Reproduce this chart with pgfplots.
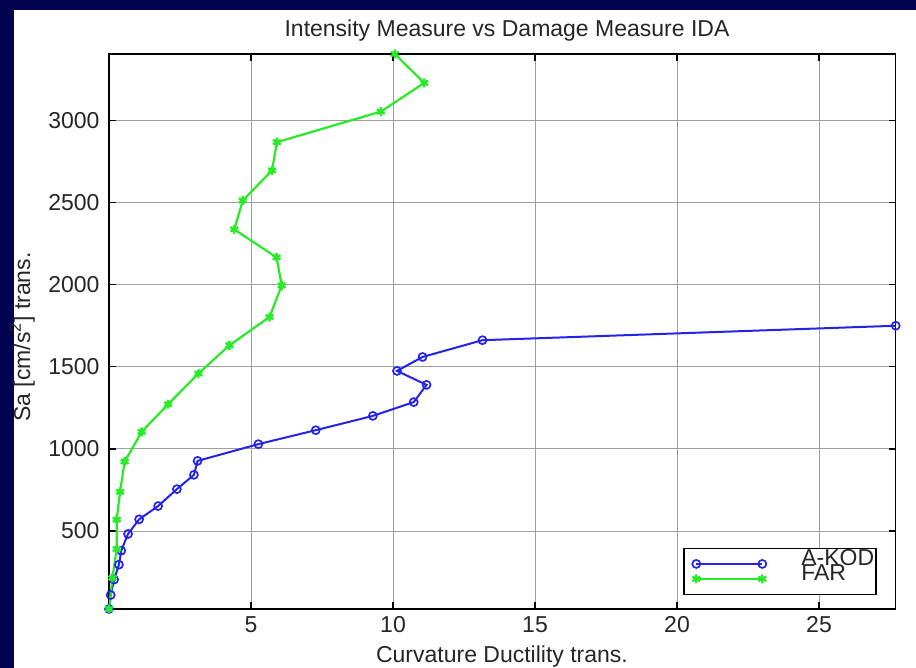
\documentclass[border=0pt]{standalone}
\usepackage{fontspec}
\setmainfont{Liberation Sans}
\usepackage{pgfplots}
\pgfplotsset{compat=1.18}
\definecolor{navy}{RGB}{2,2,80}
\definecolor{kod}{RGB}{35,35,235}
\definecolor{far}{RGB}{40,235,40}
\begin{document}
\begin{tikzpicture}[x=1pt,y=1pt,font=\fontsize{23}{26}\selectfont]
\fill[navy] (0,0) rectangle (916,668);
\fill[white] (14,0) rectangle (916,658);
\useasboundingbox (0,0) rectangle (916,668);
\begin{axis}[
  at={(109pt,59pt)}, anchor=south west,
  scale only axis, width=786.7pt, height=555pt,
  xmin=0, xmax=27.7, ymin=25, ymax=3405,
  xtick={5,10,15,20,25}, ytick={500,1000,1500,2000,2500,3000},
  /pgf/number format/assume math mode=true,
  /pgf/number format/1000 sep={},
  ticklabel style={font=\fontsize{23}{26}\selectfont, text=black!85},
  grid=major, major grid style={gray!75, line width=0.8pt},
  axis line style={black, line width=1.5pt},
  major tick length=7pt, tick style={black, line width=1.3pt},
  xticklabel style={yshift=-4pt},
  yticklabel style={xshift=-6pt},
  legend style={draw=black, line width=1.4pt, fill=white,
    at={(0.976,0.025)}, anchor=south east,
    inner xsep=2pt, inner ysep=8pt, row sep=0pt,
    nodes={inner sep=0pt, text height=9pt, text depth=6pt,
      font=\fontsize{23}{26}\selectfont, text=black!85},
    /tikz/every odd column/.append style={column sep=35pt}},
  legend cell align=left,
  legend image code/.code={\path (0pt,0pt);\draw[#1] plot coordinates {(9pt,0pt) (75pt,0pt)};},
]
\addplot[color=kod, line width=2pt, mark=o, mark size=4pt,
  mark options={line width=1.7pt}] coordinates {
(0,25) (0.06,110) (0.18,204) (0.35,295) (0.43,380) (0.67,482)
(1.06,571) (1.73,652) (2.39,755) (2.99,842) (3.12,927) (5.26,1029)
(7.28,1114) (9.29,1201) (10.73,1285) (11.18,1390) (10.14,1475)
(11.04,1560) (13.15,1662) (27.7,1750)
};
\addlegendentry{A-KOD}
\addplot[color=far, line width=2.2pt, mark=asterisk, mark size=4.5pt,
  mark options={line width=2.4pt}] coordinates {
(0,25) (0.12,214) (0.27,390) (0.27,569) (0.39,739) (0.55,923)
(1.15,1104) (2.08,1272) (3.15,1459) (4.24,1631) (5.65,1803)
(6.08,1996) (5.9,2166) (4.41,2337) (4.71,2513) (5.74,2696)
(5.91,2868) (9.57,3054) (11.1,3229) (10.06,3405)
};
\addlegendentry{FAR}
\end{axis}
\node[anchor=base, text=black!85] at (507,631) {Intensity Measure vs Damage Measure IDA};
\node[anchor=base, text=black!85] at (502,5) {Curvature Ductility trans.};
\node[anchor=base,rotate=90, text=black!85] at (30,331) {Sa [cm/s\textsuperscript{2}] trans.};
\end{tikzpicture}
\end{document}
